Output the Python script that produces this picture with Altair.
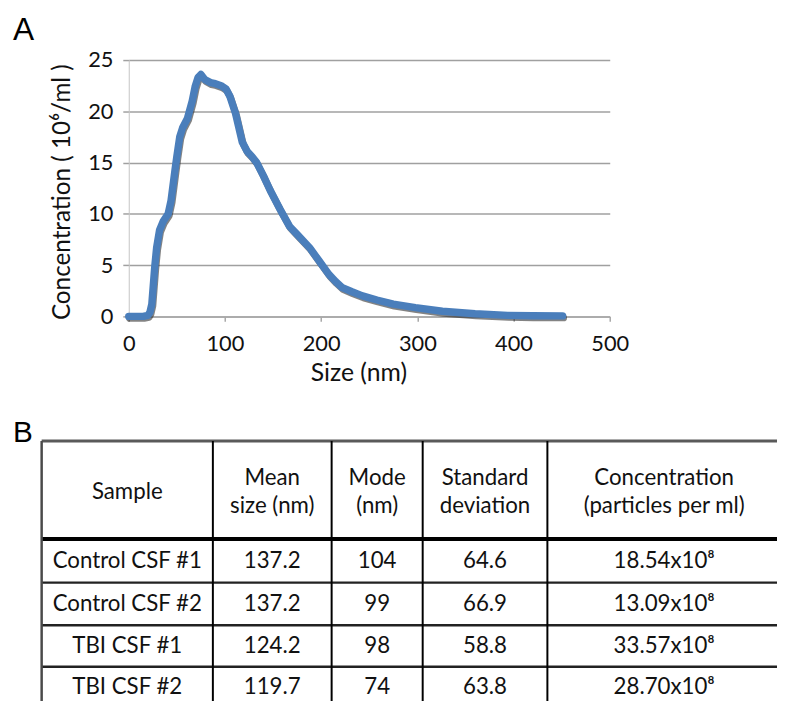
import altair as alt
import numpy as np
import pandas as pd

# ---------------- data: panel A (size distribution) ----------------
size_nm = [0, 5, 10, 15, 20, 22, 24, 27, 29, 32, 36, 41, 44, 48, 50, 53, 56, 61, 66, 69,
           72, 75, 79, 85, 90, 96, 101, 105, 111, 118, 123, 128, 133, 140, 147, 157, 167,
           175, 188, 198, 208, 215, 222, 232, 243, 258, 275, 298, 326, 360, 394, 420, 451]
concentration_e6 = [0, 0, 0, 0, 0.1, 0.4, 1.2, 4.8, 6.7, 8.4, 9.3, 10.0, 11.3, 14.2, 15.6,
                    17.5, 18.4, 19.3, 21.0, 22.4, 23.3, 23.6, 23.1, 22.8, 22.7, 22.5, 22.2,
                    21.5, 19.8, 17.0, 16.1, 15.6, 15.0, 13.7, 12.3, 10.5, 8.8, 8.0, 6.7,
                    5.4, 4.1, 3.4, 2.8, 2.4, 2.0, 1.6, 1.2, 0.85, 0.5, 0.26, 0.1, 0.06, 0.05]
x_ticks = [0, 100, 200, 300, 400, 500]
y_ticks = [0, 5, 10, 15, 20, 25]

# ---------------- data: panel B (table) ----------------
headers = ["Sample", "Mean\nsize (nm)", "Mode\n(nm)", "Standard\ndeviation",
           "Concentration\n(particles per ml)"]
samples = ["Control CSF #1", "Control CSF #2", "TBI CSF #1", "TBI CSF #2"]
mean_size = [137.2, 137.2, 124.2, 119.7]
mode_nm = [104, 99, 98, 74]
std_dev = [64.6, 66.9, 58.8, 63.8]
particles = ["18.54x10⁸", "13.09x10⁸", "33.57x10⁸", "28.70x10⁸"]
panel_letters = ["A", "B"]

# ---------------- layout ----------------
PLOT_W, PLOT_H = 486, 259
PLOT_X0, PLOT_Y0 = 130, 57          # page position of the plot area
TABLE_X0, TABLE_Y0 = 42, 442
col_widths = [173, 120, 92, 126, 236]
row_heights = [99, 44, 43, 42, 42]
col_edges = TABLE_X0 + np.concatenate([[0], np.cumsum(col_widths)])
row_edges = TABLE_Y0 + np.concatenate([[0], np.cumsum(row_heights)])
col_centers = (col_edges[:-1] + col_edges[1:]) / 2
row_centers = (row_edges[:-1] + row_edges[1:]) / 2
LINE_H = 29

FONT = "Lato"

# ---------------- panel A ----------------
line_df = pd.DataFrame({"size": size_nm, "conc": concentration_e6})

x_enc = alt.X("size:Q",
              scale=alt.Scale(domain=[0, 500], nice=False),
              axis=alt.Axis(values=x_ticks, grid=False, labelFlush=False,
                            domainColor="#a8a8a8", domainWidth=1.5,
                            tickColor="#a8a8a8", tickSize=5, tickWidth=1.5,
                            labelFont=FONT, labelFontSize=22, labelColor="#111111",
                            labelPadding=12,
                            title="Size (nm)", titleFont=FONT, titleFontSize=25,
                            titleFontWeight="normal", titleColor="#111111",
                            titleX=232, titleY=57, titleBaseline="middle"))
y_enc = alt.Y("conc:Q",
              scale=alt.Scale(domain=[0, 25], nice=False),
              axis=alt.Axis(values=y_ticks, grid=True, gridColor="#a0a0a0", gridWidth=1.5,
                            domainColor="#c4c4c4", domainWidth=1,
                            tickColor="#a0a0a0", tickSize=6, tickWidth=1.5,
                            labelFont=FONT, labelFontSize=22, labelColor="#111111",
                            labelPadding=10,
                            title="Concentration ( 10⁶/ml )", titleFont=FONT,
                            titleFontSize=24.5, titleFontWeight="normal",
                            titleColor="#111111", titleX=-67, titleY=133,
                            titleBaseline="middle"))

base = alt.Chart(line_df).encode(x=x_enc, y=y_enc)
shadow = base.mark_line(color="#1e1e1e", strokeWidth=7, opacity=0.55, xOffset=1,
                        yOffset=2, strokeCap="round", strokeJoin="round")
curve = base.mark_line(color="#4a7ebb", strokeWidth=7.5, strokeCap="round",
                       strokeJoin="round")
panel_a = alt.layer(shadow, curve)

# ---------------- page-frame scales for table and letters ----------------
fx = alt.Scale(domain=[PLOT_X0, PLOT_X0 + PLOT_W], nice=False, zero=False)
fy = alt.Scale(domain=[PLOT_Y0, PLOT_Y0 + PLOT_H], nice=False, zero=False, reverse=True)

rules = []
h_styles = [("#5a5a5a", 3)] + [("#000000", 4)] + [("#222222", 2.5)] * (len(row_edges) - 2)
for yv, (c, w) in zip(row_edges, h_styles):
    rules.append({"x1": col_edges[0], "x2": col_edges[-1], "y1": yv, "y2": yv, "c": c, "w": w})
v_styles = [("#4a4a4a", 2.5)] + [("#000000", 2)] * (len(col_edges) - 1)
for xv, (c, w) in zip(col_edges, v_styles):
    rules.append({"x1": xv, "x2": xv, "y1": row_edges[0], "y2": row_edges[-1], "c": c, "w": w})
rules_df = pd.DataFrame(rules)

grid = alt.Chart(rules_df).mark_rule().encode(
    x=alt.X("x1:Q", scale=fx, axis=None), x2="x2:Q",
    y=alt.Y("y1:Q", scale=fy, axis=None), y2="y2:Q",
    color=alt.Color("c:N", scale=None),
    strokeWidth=alt.StrokeWidth("w:Q", scale=None),
)

cells = []
for j, h in enumerate(headers):
    n_lines = h.count("\n") + 1
    cells.append({"x": col_centers[j],
                  "y": row_centers[0] + 2 - (n_lines - 1) * LINE_H / 2,
                  "t": h})
for i in range(len(samples)):
    row = [samples[i], f"{mean_size[i]:.1f}", str(mode_nm[i]), f"{std_dev[i]:.1f}", particles[i]]
    for j, v in enumerate(row):
        cells.append({"x": col_centers[j], "y": row_centers[i + 1], "t": v})
cells_df = pd.DataFrame(cells)

cell_text = alt.Chart(cells_df).mark_text(
    font=FONT, fontSize=22.5, color="#111111", align="center", baseline="middle",
    lineBreak="\n", lineHeight=LINE_H,
).encode(
    x=alt.X("x:Q", scale=fx, axis=None),
    y=alt.Y("y:Q", scale=fy, axis=None),
    text="t:N",
)

letters_df = pd.DataFrame({"x": [13, 13], "y": [37, 443], "t": panel_letters, "s": [32, 30]})
letters = alt.Chart(letters_df).mark_text(
    font="Liberation Sans", color="#000000", align="left", baseline="alphabetic",
).encode(
    x=alt.X("x:Q", scale=fx, axis=None),
    y=alt.Y("y:Q", scale=fy, axis=None),
    text="t:N",
    size=alt.Size("s:Q", scale=None),
)

frame = alt.layer(grid, cell_text, letters)

chart = alt.layer(panel_a, frame).resolve_scale(
    x="independent", y="independent"
).properties(
    width=PLOT_W, height=PLOT_H,
    autosize=alt.AutoSizeParams(type="none"),
    padding={"left": PLOT_X0 - 8, "top": PLOT_Y0 - 8,
             "right": 777 - (PLOT_X0 - 8) - PLOT_W,
             "bottom": 693 - (PLOT_Y0 - 8) - PLOT_H},
    background="white",
).configure_view(stroke=None)

chart.save("out.html", embed_options={"renderer": "svg", "actions": False})
